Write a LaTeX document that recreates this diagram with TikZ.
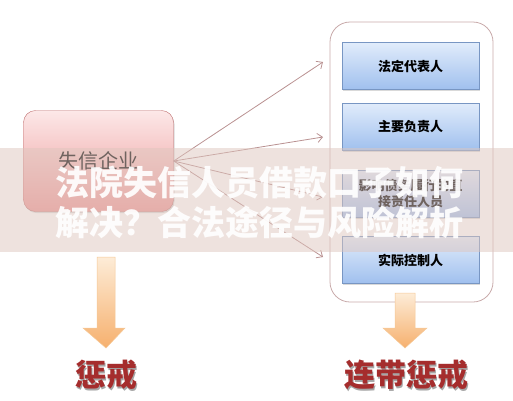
\documentclass[tikz,border=0pt]{standalone}
\usepackage{fontspec}
\newfontfamily\cjk{Noto Sans CJK SC}
\usetikzlibrary{positioning, arrows.meta, shadows}

\definecolor{linkline}{RGB}{185,145,145}
\definecolor{groupline}{RGB}{200,170,170}
\definecolor{memberline}{RGB}{120,150,195}
\definecolor{firmline}{RGB}{190,110,110}
\definecolor{labelred}{RGB}{165,45,45}
\definecolor{bandfill}{RGB}{222,198,190}

\begin{document}
\begin{tikzpicture}[x=1pt, y=-1pt, font=\cjk,
    member/.style={draw=memberline, rectangle, minimum width=137pt, minimum height=47pt,
      top color={rgb,255:red,225;green,236;blue,251}, bottom color={rgb,255:red,160;green,192;blue,238},
      align=center, font=\cjk\bfseries\fontsize{13}{16}\selectfont,
      drop shadow={shadow xshift=1pt, shadow yshift=-1.5pt, opacity=0.3}},
    link/.style={draw=linkline, line width=0.8pt, -{Straight Barb[length=5pt, width=9pt]}},
    fat/.style={draw={rgb,255:red,245;green,200;blue,150}, line width=0.5pt,
      top color={rgb,255:red,253;green,236;blue,215}, bottom color={rgb,255:red,246;green,176;blue,110}},
    verdict/.style={font=\cjk\bfseries\fontsize{31}{34}\selectfont, text=labelred}]
   \useasboundingbox (0,0) rectangle (513,400);

   % Firm on the left
   \node[draw=firmline, rounded corners=12pt, minimum width=150pt, minimum height=101pt,
     top color={rgb,255:red,252;green,232;blue,232}, bottom color={rgb,255:red,238;green,150;blue,150},
     drop shadow={shadow xshift=1pt, shadow yshift=-1.5pt, opacity=0.3},
     font=\cjk\fontsize{20}{24}\selectfont] (firm) at (98.5,161) {失信企业};

   % People in charge
   \node[draw=groupline, line width=0.8pt, rounded corners=20pt, minimum width=163pt, minimum height=280pt] (group) at (411.5,162) {};
   \node[member] (legal) at (410.5,66) {法定代表人};
   \node[member] (head) at (410.5,126.5) {主要负责人};
   \node[member] (duty) at (410.5,194) {影响债务履行的直\\接责任人员};
   \node[member] (control) at (410.5,260) {实际控制人};

   % Links
   \coordinate (t1) at (323,62);
   \coordinate (t2) at (323,137);
   \coordinate (t3) at (323,197);
   \coordinate (t4) at (323,257);
   \foreach \t in {t1,t2,t3,t4}
     \draw[link] (firm.east) -- (\t);

   % Fat arrows
   \shade[fat] (97,257) -- (115,257) -- (115,328) -- (125,328) -- (106,348) -- (83,328) -- (97,328) -- cycle;
   \shade[fat] (395,293) -- (415,293) -- (415,328) -- (427,328) -- (405,348) -- (383,328) -- (395,328) -- cycle;

   % Verdicts
   \node[verdict, text=black!35] at (107.5,376.5) {惩戒};
   \node[verdict] (punish) at (106,375) {惩戒};
   \node[verdict, text=black!35] at (407.5,376.5) {连带惩戒};
   \node[verdict] (joint) at (406,375) {连带惩戒};

   % Title band
   \fill[bandfill, opacity=0.5] (0,148) rectangle (513,252);
   \node[anchor=west, align=left, text=white, text opacity=0.92,
     font=\cjk\bfseries\fontsize{34}{40}\selectfont] (title) at (52,202)
     {法院失信人员借款口子如何\\解决？合法途径与风险解析};
\end{tikzpicture}
\end{document}
